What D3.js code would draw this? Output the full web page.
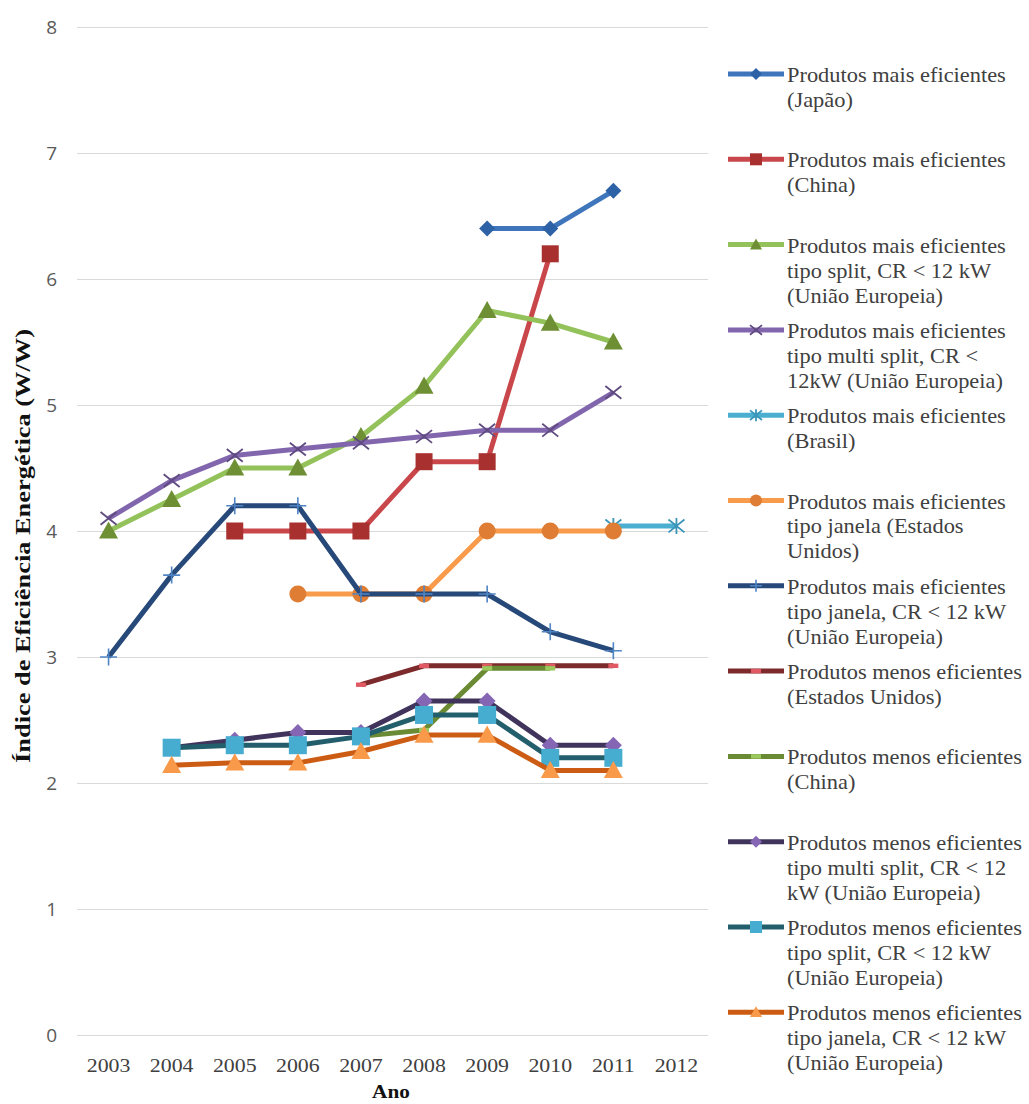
<!DOCTYPE html>
<html lang="pt">
<head>
<meta charset="utf-8">
<title>Índice de Eficiência Energética</title>
<script src="https://cdn.jsdelivr.net/npm/d3@7"></script>
<style>
  html, body { margin: 0; padding: 0; background: #ffffff; }
  svg { display: block; }
</style>
</head>
<body>
<svg id="chart" width="1029" height="1104"></svg>
<script>
// Anos (eixo X)
const years = ["2003", "2004", "2005", "2006", "2007", "2008", "2009", "2010", "2011", "2012"];

// Marcas do eixo Y
const yTicks = [0, 1, 2, 3, 4, 5, 6, 7, 8];

// Índice de eficiência energética (W/W) por ano; null = sem dado
const japaoMais          = [null, null, null, null, null, null, 6.4, 6.4, 6.7, null];
const chinaMais          = [null, null, 4.0, 4.0, 4.0, 4.55, 4.55, 6.2, null, null];
const splitUEMais        = [4.0, 4.25, 4.5, 4.5, 4.75, 5.15, 5.75, 5.65, 5.5, null];
const multiSplitUEMais   = [4.1, 4.4, 4.6, 4.65, 4.7, 4.75, 4.8, 4.8, 5.1, null];
const brasilMais         = [null, null, null, null, null, null, null, null, 4.04, 4.04];
const janelaEUAMais      = [null, null, null, 3.5, 3.5, 3.5, 4.0, 4.0, 4.0, null];
const janelaUEMais       = [3.0, 3.65, 4.2, 4.2, 3.5, 3.5, 3.5, 3.2, 3.05, null];
const euaMenos           = [null, null, null, null, 2.78, 2.93, 2.93, 2.93, 2.93, null];
const chinaMenos         = [null, null, null, null, 2.37, 2.42, 2.91, 2.91, null, null];
const multiSplitUEMenos  = [null, 2.28, 2.34, 2.4, 2.4, 2.65, 2.65, 2.3, 2.3, null];
const splitUEMenos       = [null, 2.28, 2.3, 2.3, 2.37, 2.54, 2.54, 2.2, 2.2, null];
const janelaUEMenos      = [null, 2.14, 2.16, 2.16, 2.25, 2.38, 2.38, 2.1, 2.1, null];

// Rótulos da legenda (uma linha por item do array)
const legendLabels = [
  ["Produtos mais eficientes", "(Japão)"],
  ["Produtos mais eficientes", "(China)"],
  ["Produtos mais eficientes", "tipo split, CR < 12 kW", "(União Europeia)"],
  ["Produtos mais eficientes", "tipo multi split, CR <", "12kW (União Europeia)"],
  ["Produtos mais eficientes", "(Brasil)"],
  ["Produtos mais eficientes", "tipo janela (Estados", "Unidos)"],
  ["Produtos mais eficientes", "tipo janela, CR < 12 kW", "(União Europeia)"],
  ["Produtos menos eficientes", "(Estados Unidos)"],
  ["Produtos menos eficientes", "(China)"],
  ["Produtos menos eficientes", "tipo multi split, CR < 12", "kW (União Europeia)"],
  ["Produtos menos eficientes", "tipo split, CR < 12 kW", "(União Europeia)"],
  ["Produtos menos eficientes", "tipo janela, CR < 12 kW", "(União Europeia)"]
];

const yTitle = "Índice de Eficiência Energética (W/W)";
const xTitle = "Ano";

// Estilo de cada série (mesma ordem da legenda)
const series = [
  { values: japaoMais,         line: "#3f75bb", marker: "diamond",  fill: "#2d62a6", size: 16 },
  { values: chinaMais,         line: "#c9474a", marker: "square",   fill: "#a8302f", size: 17 },
  { values: splitUEMais,       line: "#93c15a", marker: "triangle", fill: "#6f8f34", size: 19 },
  { values: multiSplitUEMais,  line: "#8266ad", marker: "x",        fill: "#5f4b80", size: 16 },
  { values: brasilMais,        line: "#4aaed0", marker: "star",     fill: "#3a95b8", size: 16 },
  { values: janelaEUAMais,     line: "#f89b4b", marker: "circle",   fill: "#de7d33", size: 17 },
  { values: janelaUEMais,      line: "#26497a", marker: "plus",     fill: "#4f84c4", size: 17 },
  { values: euaMenos,          line: "#7d2a2c", marker: "dash",     fill: "#e15a63", size: 10 },
  { values: chinaMenos,        line: "#6a8a34", marker: "dash",     fill: "#9cc95e", size: 10 },
  { values: multiSplitUEMenos, line: "#41345c", marker: "diamond",  fill: "#8566b4", size: 17 },
  { values: splitUEMenos,      line: "#235e6d", marker: "square",   fill: "#46acd0", size: 18 },
  { values: janelaUEMenos,     line: "#cc5c14", marker: "triangle", fill: "#f99a4a", size: 19 }
];

const svg = d3.select("#chart");

const plot = { left: 77, right: 708, top: 27, bottom: 1035 };

const x = d3.scaleBand().domain(years).range([plot.left, plot.right]);
const xc = d => x(d) + x.bandwidth() / 2;
const y = d3.scaleLinear().domain([0, 8]).range([plot.bottom, plot.top]);

// Linhas de grade e rótulos do eixo Y
const yAxis = svg.append("g")
  .attr("transform", `translate(${plot.left},0)`)
  .call(d3.axisLeft(y).tickValues(yTicks).tickFormat(d3.format("d"))
    .tickSizeInner(-(plot.right - plot.left)).tickSizeOuter(0).tickPadding(20));
yAxis.select(".domain").remove();
yAxis.selectAll(".tick line").attr("stroke", "#d9d9d9").attr("stroke-width", 1.2);
yAxis.selectAll(".tick text")
  .attr("fill", "#5a5a5a")
  .attr("dy", "0.36em")
  .style("font-family", "'Open Sans', 'Liberation Sans', sans-serif")
  .style("font-size", "19px");

// Rótulos do eixo X
const xAxis = svg.append("g")
  .attr("transform", `translate(0,${plot.bottom})`)
  .call(d3.axisBottom(x).tickSize(0).tickPadding(0));
xAxis.select(".domain").remove();
xAxis.selectAll(".tick text")
  .attr("y", 37).attr("dy", null)
  .attr("transform", "scale(1.12,1)")
  .attr("fill", "#404040")
  .style("font-family", "'Liberation Serif', 'Times New Roman', serif")
  .style("font-size", "19.5px");

// Títulos dos eixos
svg.append("text")
  .attr("transform", `translate(30,546) rotate(-90)`)
  .attr("text-anchor", "middle")
  .attr("textLength", 434).attr("lengthAdjust", "spacingAndGlyphs")
  .style("font-family", "'Liberation Serif', 'Times New Roman', serif")
  .style("font-weight", "bold").style("font-size", "22px")
  .attr("fill", "#111")
  .text(yTitle);

svg.append("text")
  .attr("transform", "translate(391,1098) scale(1.12,1)")
  .attr("text-anchor", "middle")
  .style("font-family", "'Liberation Serif', 'Times New Roman', serif")
  .style("font-weight", "bold").style("font-size", "19px")
  .attr("fill", "#111")
  .text(xTitle);

// Desenho dos marcadores
function drawMarker(g, s, cx, cy) {
  const r = s.size / 2;
  switch (s.marker) {
    case "diamond":
      g.append("path").attr("d", `M${cx},${cy - r}L${cx + r},${cy}L${cx},${cy + r}L${cx - r},${cy}Z`)
        .attr("fill", s.fill);
      break;
    case "square":
      g.append("rect").attr("x", cx - r).attr("y", cy - r).attr("width", s.size).attr("height", s.size)
        .attr("fill", s.fill);
      break;
    case "triangle":
      g.append("path").attr("d", `M${cx},${cy - r}L${cx + r},${cy + r * 0.8}L${cx - r},${cy + r * 0.8}Z`)
        .attr("fill", s.fill);
      break;
    case "circle":
      g.append("circle").attr("cx", cx).attr("cy", cy).attr("r", r).attr("fill", s.fill);
      break;
    case "x":
      g.append("path").attr("d", `M${cx - r},${cy - r * 0.8}L${cx + r},${cy + r * 0.8}M${cx - r},${cy + r * 0.8}L${cx + r},${cy - r * 0.8}`)
        .attr("stroke", s.fill).attr("stroke-width", 1.8).attr("fill", "none");
      break;
    case "plus":
      g.append("path").attr("d", `M${cx - r},${cy}L${cx + r},${cy}M${cx},${cy - r}L${cx},${cy + r}`)
        .attr("stroke", s.fill).attr("stroke-width", 1.6).attr("fill", "none");
      break;
    case "star":
      g.append("path").attr("d", `M${cx - r},${cy - r * 0.8}L${cx + r},${cy + r * 0.8}M${cx - r},${cy + r * 0.8}L${cx + r},${cy - r * 0.8}M${cx},${cy - r}L${cx},${cy + r}`)
        .attr("stroke", s.fill).attr("stroke-width", 1.8).attr("fill", "none");
      break;
    case "dash":
      g.append("rect").attr("x", cx - r).attr("y", cy - 2.2).attr("width", s.size).attr("height", 4.4)
        .attr("fill", s.fill);
      break;
  }
}

const line = d3.line()
  .defined(d => d.v !== null)
  .x(d => xc(d.year))
  .y(d => y(d.v));

// Séries
series.forEach(s => {
  const pts = years.map((yr, i) => ({ year: yr, v: s.values[i] }));
  const g = svg.append("g");
  g.append("path")
    .attr("d", line(pts))
    .attr("fill", "none")
    .attr("stroke", s.line)
    .attr("stroke-width", 5)
    .attr("stroke-linejoin", "round");
  pts.filter(p => p.v !== null).forEach(p => drawMarker(g, s, xc(p.year), y(p.v)));
});

// Legenda
const legend = svg.append("g");
series.forEach((s, i) => {
  const ly = 74 + i * 85.3;
  const g = legend.append("g");
  g.append("line")
    .attr("x1", 728).attr("x2", 784).attr("y1", ly).attr("y2", ly)
    .attr("stroke", s.line).attr("stroke-width", 5);
  drawMarker(g, Object.assign({}, s, { size: s.marker === "dash" ? 10 : Math.min(s.size, 12) }), 756, ly);
  const t = g.append("text")
    .attr("transform", `translate(787,${ly + 8}) scale(1.12,1)`)
    .attr("fill", "#404040")
    .style("font-family", "'Liberation Serif', 'Times New Roman', serif")
    .style("font-size", "20px");
  legendLabels[i].forEach((txt, j) => {
    t.append("tspan").attr("x", 0).attr("y", j * 25).text(txt);
  });
});
</script>
</body>
</html>
